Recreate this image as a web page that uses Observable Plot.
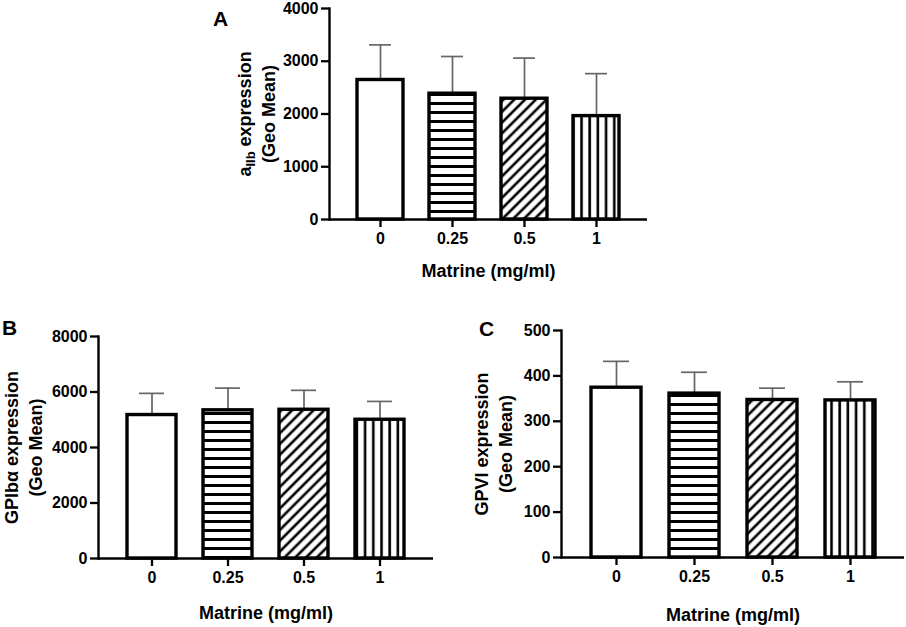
<!DOCTYPE html>
<html>
<head>
<meta charset="utf-8">
<script src="https://cdn.jsdelivr.net/npm/d3@7"></script>
<script src="https://cdn.jsdelivr.net/npm/@observablehq/plot@0.6"></script>
<style>
  html, body { margin: 0; padding: 0; background: white; }
  #root { position: relative; width: 906px; height: 627px; overflow: hidden; background: white;
          font-family: "Liberation Sans", Arial, sans-serif; color: black; }
  .panel { position: absolute; }
  .letter { position: absolute; font-weight: bold; font-size: 21px; line-height: 1; }
</style>
</head>
<body>
<svg width="0" height="0" style="position:absolute">
  <defs>
    <pattern id="pat-h" patternUnits="userSpaceOnUse" width="10" height="9">
      <rect width="10" height="9" fill="white"/>
      <rect y="3" width="10" height="3" fill="black"/>
    </pattern>
    <pattern id="pat-d" patternUnits="userSpaceOnUse" width="7.6" height="7.6" patternTransform="rotate(45)">
      <rect width="7.6" height="7.6" fill="white"/>
      <rect x="2.5" width="2.6" height="7.6" fill="black"/>
    </pattern>
    <pattern id="pat-v" patternUnits="userSpaceOnUse" width="8.2" height="10">
      <rect width="8.2" height="10" fill="white"/>
      <rect x="3" width="2.6" height="10" fill="black"/>
    </pattern>
  </defs>
</svg>
<div id="root">
  <div class="letter" style="left:213px; top:8px;">A</div>
  <div class="letter" style="left:2px; top:317px;">B</div>
  <div class="letter" style="left:479px; top:318px;">C</div>
</div>
<script>
// ---- data ----
const doses = ["0", "0.25", "0.5", "1"];
const xTitle = "Matrine (mg/ml)";

const aMean = [2645, 2385, 2290, 1960];
const aErr  = [3310, 3090, 3060, 2765];
const aTicks = [0, 1000, 2000, 3000, 4000];

const bMean = [5170, 5340, 5360, 5000];
const bErr  = [5950, 6140, 6060, 5660];
const bTicks = [0, 2000, 4000, 6000, 8000];

const cMean = [374, 361, 347, 346];
const cErr  = [432, 408, 373, 387];
const cTicks = [0, 100, 200, 300, 400, 500];

const fills = ["white", "url(#pat-h)", "url(#pat-d)", "url(#pat-v)"];
const FONT = '"Liberation Sans", Arial, sans-serif';

function panel(o) {
  const data = doses.map((d, i) => ({dose: d, mean: o.means[i], err: o.errs[i]}));
  const chart = Plot.plot({
    width: o.width, height: o.height,
    marginLeft: o.ml, marginRight: o.mr, marginTop: o.mt, marginBottom: o.mb,
    style: {fontFamily: FONT, background: "transparent", overflow: "visible", color: "black"},
    x: {domain: doses, padding: 0.36, axis: null},
    y: {domain: [0, o.yMax], axis: null},
    color: {domain: doses, range: fills},
    marks: [
      Plot.ruleX(data, {x: "dose", y1: "mean", y2: "err", stroke: "#666", strokeWidth: 1.7}),
      Plot.tickY(data, {x: "dose", y: "err", stroke: "#666", strokeWidth: 1.7, insetLeft: 12, insetRight: 12}),
      Plot.barY(data, {x: "dose", y: "mean", fill: "dose", stroke: "black", strokeWidth: 3.4}),
      Plot.axisY({ticks: o.ticks, tickSize: 8, tickPadding: 3, tickFormat: d3.format("d"),
                  fontSize: 16, fontWeight: "bold", stroke: "black", strokeWidth: 2.3, label: null}),
      Plot.axisX({tickSize: 8, tickPadding: 5, fontSize: 16, fontWeight: "bold",
                  stroke: "black", strokeWidth: 2.3, label: null}),
      Plot.ruleY([0], {stroke: "black", strokeWidth: 2.4}),
      Plot.frame({anchor: "left", stroke: "black", strokeWidth: 2.4}),
      Plot.text([xTitle], {frameAnchor: "bottom", lineAnchor: "middle", textAnchor: "middle",
                           dy: o.titleDy, fontSize: 18, fontWeight: "bold", fill: "black"}),
      Plot.text([o.yLabel], {frameAnchor: "left", rotate: -90, textAnchor: "middle", lineAnchor: "middle",
                             dx: o.ylabDx, lineHeight: o.lh, fontSize: 18, fontWeight: "bold", fill: "black"})
    ]
  });
  const div = document.createElement("div");
  div.className = "panel";
  div.style.left = o.left + "px";
  div.style.top = o.top + "px";
  div.appendChild(chart);
  document.getElementById("root").appendChild(div);
  return chart;
}

const chartA = panel({means: aMean, errs: aErr, yMax: 4000, ticks: aTicks,
  yLabel: "aIIb expression\n(Geo Mean)",
  left: 200, top: 0, width: 460, height: 290, ml: 129, mr: 13, mt: 8, mb: 71,
  titleDy: 52, ylabDx: -74, lh: 1.3});

const chartB = panel({means: bMean, errs: bErr, yMax: 8000, ticks: bTicks,
  yLabel: "GPIb\u03B1 expression\n(Geo Mean)",
  left: 0, top: 310, width: 450, height: 317, ml: 98, mr: 17, mt: 26, mb: 69,
  titleDy: 55, ylabDx: -76, lh: 1.35});

const chartC = panel({means: cMean, errs: cErr, yMax: 500, ticks: cTicks,
  yLabel: "GPVI expression\n(Geo Mean)",
  left: 450, top: 310, width: 456, height: 317, ml: 111, mr: 2, mt: 20, mb: 70,
  titleDy: 58, ylabDx: -69, lh: 1.35});

// subscript for the a(IIb) label
d3.select(chartA).selectAll("tspan")
  .filter(function() { return this.textContent === "aIIb expression"; })
  .html('a<tspan dy="4" font-size="13">IIb</tspan><tspan dy="-4"> expression</tspan>');
</script>
</body>
</html>
